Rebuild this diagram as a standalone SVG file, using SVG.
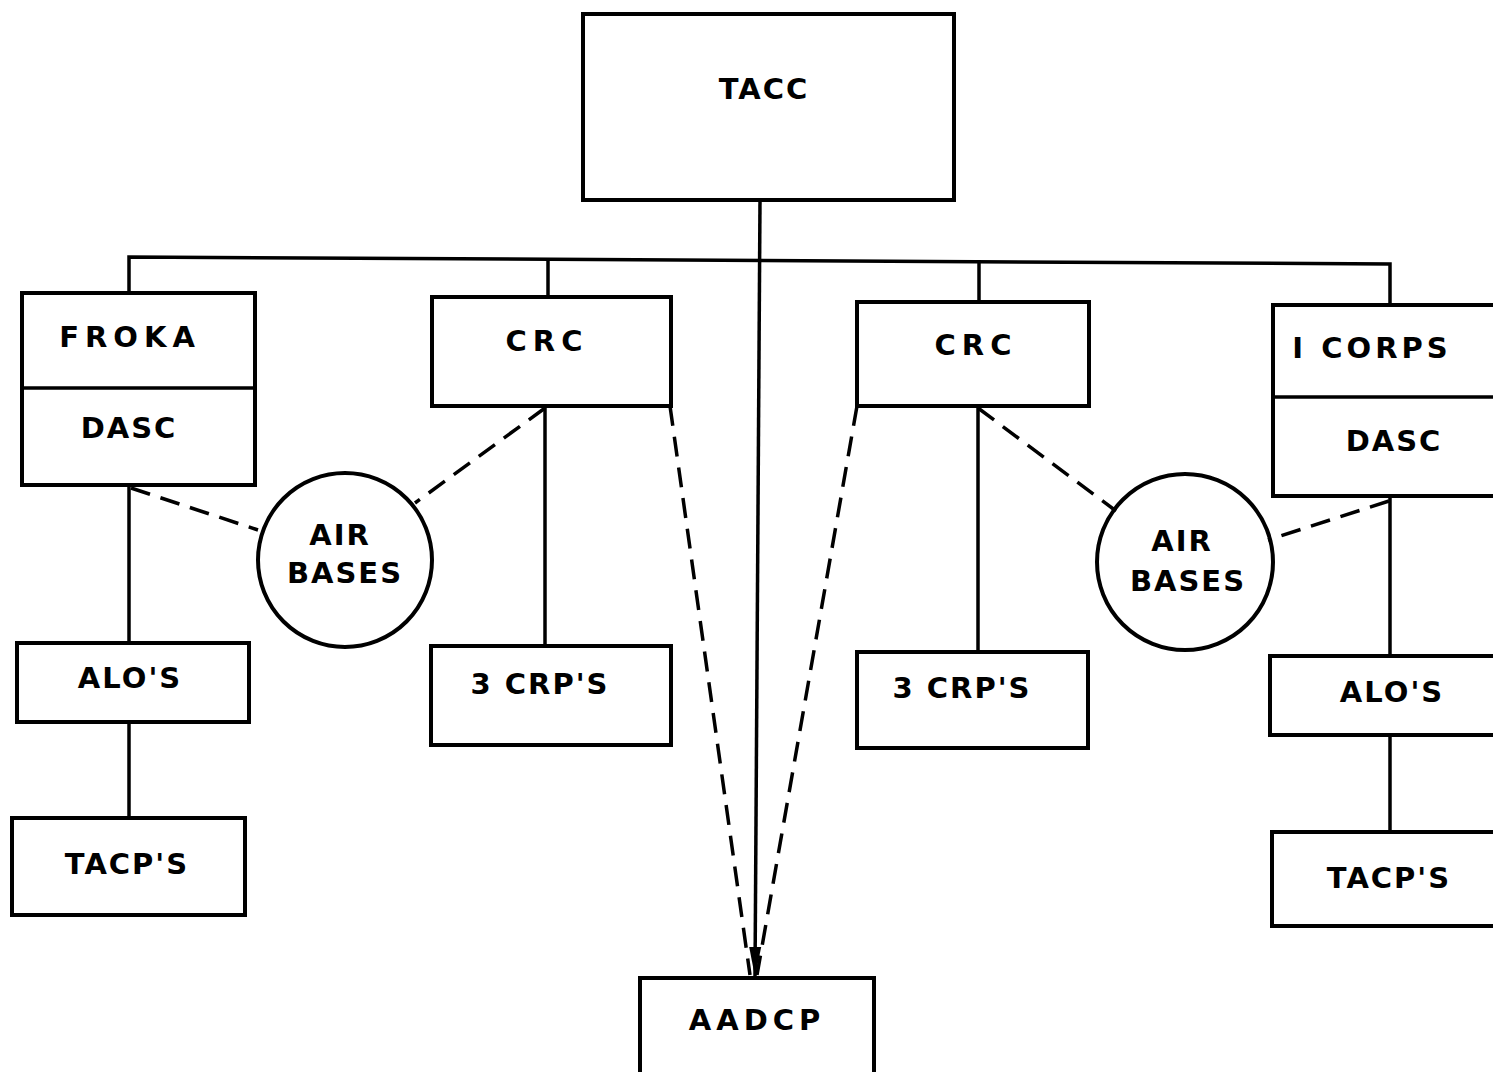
<svg xmlns="http://www.w3.org/2000/svg" width="1493" height="1072" viewBox="0 0 1493 1072">
<defs>
<style>
.box{fill:none;stroke:#000;stroke-width:4}
.ln{fill:none;stroke:#000;stroke-width:3.5}
.ds{fill:none;stroke:#000;stroke-width:3.5;stroke-dasharray:20 11}
.t{font-family:"DejaVu Sans","Liberation Sans",sans-serif;font-weight:bold;font-size:29px;letter-spacing:2px;text-anchor:middle;fill:#000}
</style>
<marker id="ah" markerWidth="32" markerHeight="14" refX="30" refY="7" orient="auto" markerUnits="userSpaceOnUse" viewBox="0 0 32 14">
<path d="M0,1 L30,7 L0,13 Z" fill="#000"/>
</marker>
</defs>
<rect width="1493" height="1072" fill="#fff"/>
<g id="connectors">
<polyline class="ln" points="129,292 129,257 1390,264 1390,305"/>
<line class="ln" x1="548" y1="258" x2="548" y2="297"/>
<line class="ln" x1="979" y1="262" x2="979" y2="302"/>
<line class="ln" x1="760" y1="200" x2="755" y2="977" marker-end="url(#ah)"/>
<line class="ds" x1="670" y1="406" x2="750" y2="975"/>
<line class="ds" x1="857" y1="406" x2="757" y2="975"/>
<line class="ln" x1="129" y1="485" x2="129" y2="643"/>
<line class="ln" x1="129" y1="722" x2="129" y2="818"/>
<line class="ln" x1="545" y1="406" x2="545" y2="646"/>
<line class="ln" x1="978" y1="406" x2="978" y2="652"/>
<line class="ln" x1="1390" y1="496" x2="1390" y2="656"/>
<line class="ln" x1="1390" y1="735" x2="1390" y2="832"/>
<line class="ds" x1="131" y1="488" x2="258" y2="530"/>
<line class="ds" x1="545" y1="408" x2="415" y2="503"/>
<line class="ds" x1="978" y1="408" x2="1116" y2="511"/>
<line class="ds" x1="1389" y1="501" x2="1268" y2="540"/>
</g>
<g id="tacc"><rect class="box" x="583" y="14" width="371" height="186"/><text class="t" x="764" y="99">TACC</text></g>
<g id="froka-dasc"><rect class="box" x="22" y="293" width="233" height="192"/><line class="ln" x1="22" y1="388" x2="255" y2="388"/><text class="t" x="130" y="347" style="letter-spacing:6px">FROKA</text><text class="t" x="129" y="438">DASC</text></g>
<g id="crc-left"><rect class="box" x="432" y="297" width="239" height="109"/><text class="t" x="547" y="351" style="letter-spacing:6px">CRC</text></g>
<g id="crc-right"><rect class="box" x="857" y="302" width="232" height="104"/><text class="t" x="976" y="355" style="letter-spacing:6px">CRC</text></g>
<g id="icorps-dasc"><rect class="box" x="1273" y="305" width="230" height="191"/><line class="ln" x1="1273" y1="397" x2="1493" y2="397"/><text class="t" x="1372" y="358" style="letter-spacing:4px">I CORPS</text><text class="t" x="1394" y="451">DASC</text></g>
<g id="airbases-left"><circle class="box" cx="345" cy="560" r="87"/><text class="t" x="340" y="545">AIR</text><text class="t" x="345" y="583">BASES</text></g>
<g id="airbases-right"><circle class="box" cx="1185" cy="562" r="88"/><text class="t" x="1182" y="551">AIR</text><text class="t" x="1188" y="591">BASES</text></g>
<g id="alos-left"><rect class="box" x="17" y="643" width="232" height="79"/><text class="t" x="130" y="688">ALO'S</text></g>
<g id="tacps-left"><rect class="box" x="12" y="818" width="233" height="97"/><text class="t" x="127" y="874">TACP'S</text></g>
<g id="crps-left"><rect class="box" x="431" y="646" width="240" height="99"/><text class="t" x="540" y="694">3 CRP'S</text></g>
<g id="crps-right"><rect class="box" x="857" y="652" width="231" height="96"/><text class="t" x="962" y="698">3 CRP'S</text></g>
<g id="alos-right"><rect class="box" x="1270" y="656" width="233" height="79"/><text class="t" x="1392" y="702">ALO'S</text></g>
<g id="tacps-right"><rect class="box" x="1272" y="832" width="231" height="94"/><text class="t" x="1389" y="888">TACP'S</text></g>
<g id="aadcp"><rect class="box" x="640" y="978" width="234" height="100"/><text class="t" x="757" y="1030" style="letter-spacing:5px">AADCP</text></g>
</svg>
